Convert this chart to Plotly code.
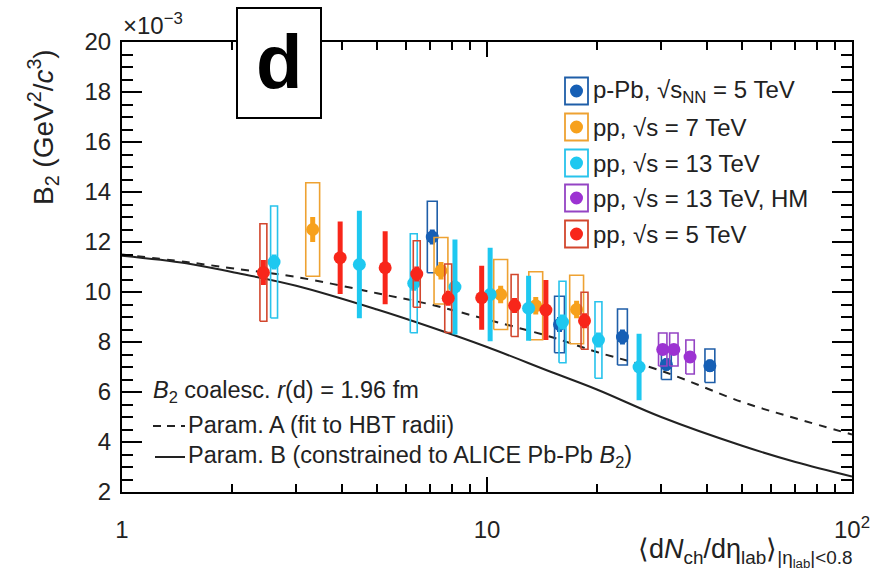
import plotly.graph_objects as go

# ---------------- data ----------------
# p-Pb, sqrt(sNN) = 5 TeV
ppb_x = [7.08, 15.8, 23.5, 31.0, 40.8]
ppb_y = [12.2, 8.7, 8.2, 7.1, 7.05]
ppb_stat = [0.3, 0.3, 0.3, 0.25, 0.25]
ppb_sys = [1.43, 1.13, 1.12, 0.6, 0.67]

# pp, sqrt(s) = 7 TeV
pp7_x = [3.33, 7.48, 10.9, 13.6, 17.6]
pp7_y = [12.5, 10.85, 9.9, 9.45, 9.3]
pp7_stat = [0.5, 0.35, 0.35, 0.35, 0.35]
pp7_sys = [1.87, 1.33, 1.4, 1.36, 1.37]

# pp, sqrt(s) = 13 TeV
pp13_x = [2.61, 4.47, 6.3, 8.17, 10.2, 13.0, 16.1, 20.2, 26.1]
pp13_y = [11.2, 11.1, 10.35, 10.2, 9.9, 9.35, 8.8, 8.08, 7.0]
pp13_stat = [0.3, 2.15, 0.3, 1.9, 1.87, 1.3, 0.3, 0.3, 1.33]
pp13_sys = [2.24, 0, 1.98, 0, 0, 0, 1.63, 1.53, 0]

# pp, sqrt(s) = 13 TeV, HM
hm_x = [30.3, 32.5, 36.0]
hm_y = [7.7, 7.7, 7.4]
hm_stat = [0.2, 0.2, 0.2]
hm_sys = [0.66, 0.66, 0.68]

# pp, sqrt(s) = 5 TeV
pp5_x = [2.44, 3.96, 5.26, 6.42, 7.83, 9.67, 11.9, 14.5, 18.5]
pp5_y = [10.78, 11.37, 10.97, 10.72, 9.75, 9.77, 9.46, 9.28, 8.85]
pp5_stat = [0.5, 1.45, 1.46, 0.3, 0.3, 1.28, 0.3, 1.2, 0.3]
pp5_sys = [1.95, 0, 0, 1.33, 1.37, 0, 1.24, 0, 1.14]

# coalescence curves
model_x = [1, 1.5, 2, 3, 5, 7, 10, 15, 20, 30, 50, 70, 100]
paramA_y = [11.5, 11.2, 10.95, 10.6, 9.95, 9.5, 8.9, 8.2, 7.6, 6.85, 5.6, 4.95, 4.3]
paramB_y = [11.45, 11.15, 10.8, 10.25, 9.3, 8.6, 7.8, 6.8, 6.1, 5.0, 3.85, 3.2, 2.62]

x_tickvals = [1, 10, 100]
x_ticktext = ["1", "10", "10<sup>2</sup>"]
x_minor = [2, 3, 4, 5, 6, 7, 8, 9, 20, 30, 40, 50, 60, 70, 80, 90]
y_tickvals = [2, 4, 6, 8, 10, 12, 14, 16, 18, 20]

FONT = "Liberation Sans, Arial, Helvetica, sans-serif"

series = [
    dict(name="p-Pb, √s<sub>NN</sub> = 5 TeV", x=ppb_x, y=ppb_y, stat=ppb_stat, sys=ppb_sys,
         color="#165fb5", box="#1f5ea8", hw=0.0135),
    dict(name="pp, √s = 7 TeV", x=pp7_x, y=pp7_y, stat=pp7_stat, sys=pp7_sys,
         color="#f7a11c", box="#eea232", hw=0.019),
    dict(name="pp, √s = 13 TeV", x=pp13_x, y=pp13_y, stat=pp13_stat, sys=pp13_sys,
         color="#1ec8f0", box="#28c3ec", hw=0.0095),
    dict(name="pp, √s = 13 TeV, HM", x=hm_x, y=hm_y, stat=hm_stat, sys=hm_sys,
         color="#9c32d2", box="#9444c4", hw=0.0115),
    dict(name="pp, √s = 5 TeV", x=pp5_x, y=pp5_y, stat=pp5_stat, sys=pp5_sys,
         color="#f8261a", box="#d2472e", hw=0.0095),
]

fig = go.Figure()

# model curves
fig.add_trace(go.Scatter(x=model_x, y=paramA_y, mode="lines", line=dict(color="#222", width=2, dash="8px,7px", shape="spline"), hoverinfo="skip"))
fig.add_trace(go.Scatter(x=model_x, y=paramB_y, mode="lines", line=dict(color="#222", width=2, shape="spline"), hoverinfo="skip"))

for s in series:
    bx, by = [], []
    for xv, yv, sv in zip(s["x"], s["y"], s["sys"]):
        if sv > 0:
            lo = xv * 10 ** (-s["hw"])
            hi = xv * 10 ** (s["hw"])
            bx += [lo, hi, hi, lo, lo, None]
            by += [yv - sv, yv - sv, yv + sv, yv + sv, yv - sv, None]
    fig.add_trace(go.Scatter(x=bx, y=by, mode="lines", line=dict(color=s["box"], width=1.6), hoverinfo="skip"))
    fig.add_trace(go.Scatter(
        x=s["x"], y=s["y"], mode="markers",
        marker=dict(color=s["color"], size=13, line=dict(width=0)),
        error_y=dict(type="data", array=s["stat"], visible=True, thickness=5, width=0, color=s["color"]),
        hoverinfo="skip"))

shapes = []
annotations = []

# Manual legend
W, H = 730.0, 450.0
L0, T0 = 122.0, 42.0
def px(xp):
    return (xp - L0) / W
def py(yp):
    return (T0 + H - yp) / H

leg_y = [91, 127, 163, 198, 234]
for s, yc in zip(series, leg_y):
    shapes.append(dict(type="rect", xref="paper", yref="paper", x0=px(565), x1=px(588), y0=py(yc + 13.5), y1=py(yc - 13.5),
                       line=dict(color=s["box"], width=1.8), fillcolor="rgba(0,0,0,0)"))
    shapes.append(dict(type="circle", xref="paper", yref="paper", xsizemode="pixel", ysizemode="pixel",
                       xanchor=px(576.5), yanchor=py(yc), x0=-6.5, x1=6.5, y0=-6.5, y1=6.5,
                       fillcolor=s["color"], line=dict(width=0)))
    annotations.append(dict(xref="paper", yref="paper", x=px(591), y=py(yc), xanchor="left", yanchor="middle",
                            text=s["name"], showarrow=False, font=dict(size=24, color="#222", family=FONT)))

# "d" panel label
shapes.append(dict(type="rect", xref="paper", yref="paper", x0=px(237), x1=px(321), y0=py(118), y1=py(8),
                   line=dict(color="black", width=2), fillcolor="white", layer="above"))
annotations.append(dict(xref="paper", yref="paper", x=px(279), y=py(62), xanchor="center", yanchor="middle",
                        text="<b>d</b>", showarrow=False, font=dict(size=76, color="black", family=FONT)))

# model text block
annotations.append(dict(xref="paper", yref="paper", x=px(151), y=py(391), xanchor="left", yanchor="middle",
                        text="<i>B</i><sub>2</sub> coalesc. <i>r</i>(d) = 1.96 fm", showarrow=False,
                        font=dict(size=23.5, color="#222", family=FONT)))
shapes.append(dict(type="line", xref="paper", yref="paper", x0=px(153), x1=px(185), y0=py(426), y1=py(426),
                   line=dict(color="#222", width=2, dash="8px,6px")))
annotations.append(dict(xref="paper", yref="paper", x=px(186), y=py(425), xanchor="left", yanchor="middle",
                        text="Param. A (fit to HBT radii)", showarrow=False, font=dict(size=23.5, color="#222", family=FONT)))
shapes.append(dict(type="line", xref="paper", yref="paper", x0=px(155), x1=px(185), y0=py(457), y1=py(457),
                   line=dict(color="#222", width=2)))
annotations.append(dict(xref="paper", yref="paper", x=px(186), y=py(456), xanchor="left", yanchor="middle",
                        text="Param. B (constrained to ALICE Pb-Pb <i>B</i><sub>2</sub>)", showarrow=False,
                        font=dict(size=23.5, color="#222", family=FONT)))

# axis titles / exponent
annotations.append(dict(xref="paper", yref="paper", x=px(43), y=py(127), xanchor="center", yanchor="middle",
                        textangle=-90, text="B<sub>2</sub> (GeV<sup>2</sup>/<i>c</i><sup>3</sup>)", showarrow=False,
                        font=dict(size=28, color="#222", family=FONT)))
annotations.append(dict(xref="paper", yref="paper", x=px(121), y=py(24), xanchor="left", yanchor="middle",
                        text="×10<sup>−3</sup>", showarrow=False, font=dict(size=24, color="#222", family=FONT)))
annotations.append(dict(xref="paper", yref="paper", x=px(855), y=py(552), xanchor="right", yanchor="middle",
                        text="⟨d<i>N</i><sub>ch</sub>/dη<sub>lab</sub>⟩<sub>|η<sub>lab</sub>|&lt;0.8</sub>", showarrow=False,
                        font=dict(size=27, color="#222", family=FONT)))

fig.update_layout(
    width=885, height=579,
    margin=dict(l=122, r=33, t=42, b=87),
    plot_bgcolor="white", paper_bgcolor="white",
    showlegend=False,
    font=dict(family=FONT, size=24, color="#222"),
    shapes=shapes, annotations=annotations,
    xaxis=dict(type="log", range=[0, 2], showline=True, linecolor="black", linewidth=2, mirror="allticks",
               ticks="inside", ticklen=15, tickwidth=1.5, tickcolor="black",
               tickmode="array", tickvals=x_tickvals, ticktext=x_ticktext,
               showgrid=False, zeroline=False, ticklabelstandoff=15,
               tickfont=dict(size=24, color="#222"),
               minor=dict(tickmode="array", tickvals=x_minor, ticks="inside", ticklen=8, tickwidth=1.5,
                          tickcolor="black", showgrid=False)),
    yaxis=dict(range=[2, 20], showline=True, linecolor="black", linewidth=2, mirror="allticks",
               ticks="inside", ticklen=20, tickwidth=1.5, tickcolor="black",
               tickmode="array", tickvals=y_tickvals,
               showgrid=False, zeroline=False, ticklabelstandoff=4,
               tickfont=dict(size=24, color="#222"),
               minor=dict(dtick=0.5, ticks="inside", ticklen=11, tickwidth=1.5, tickcolor="black", showgrid=False)),
)

fig.write_html("out.html")
